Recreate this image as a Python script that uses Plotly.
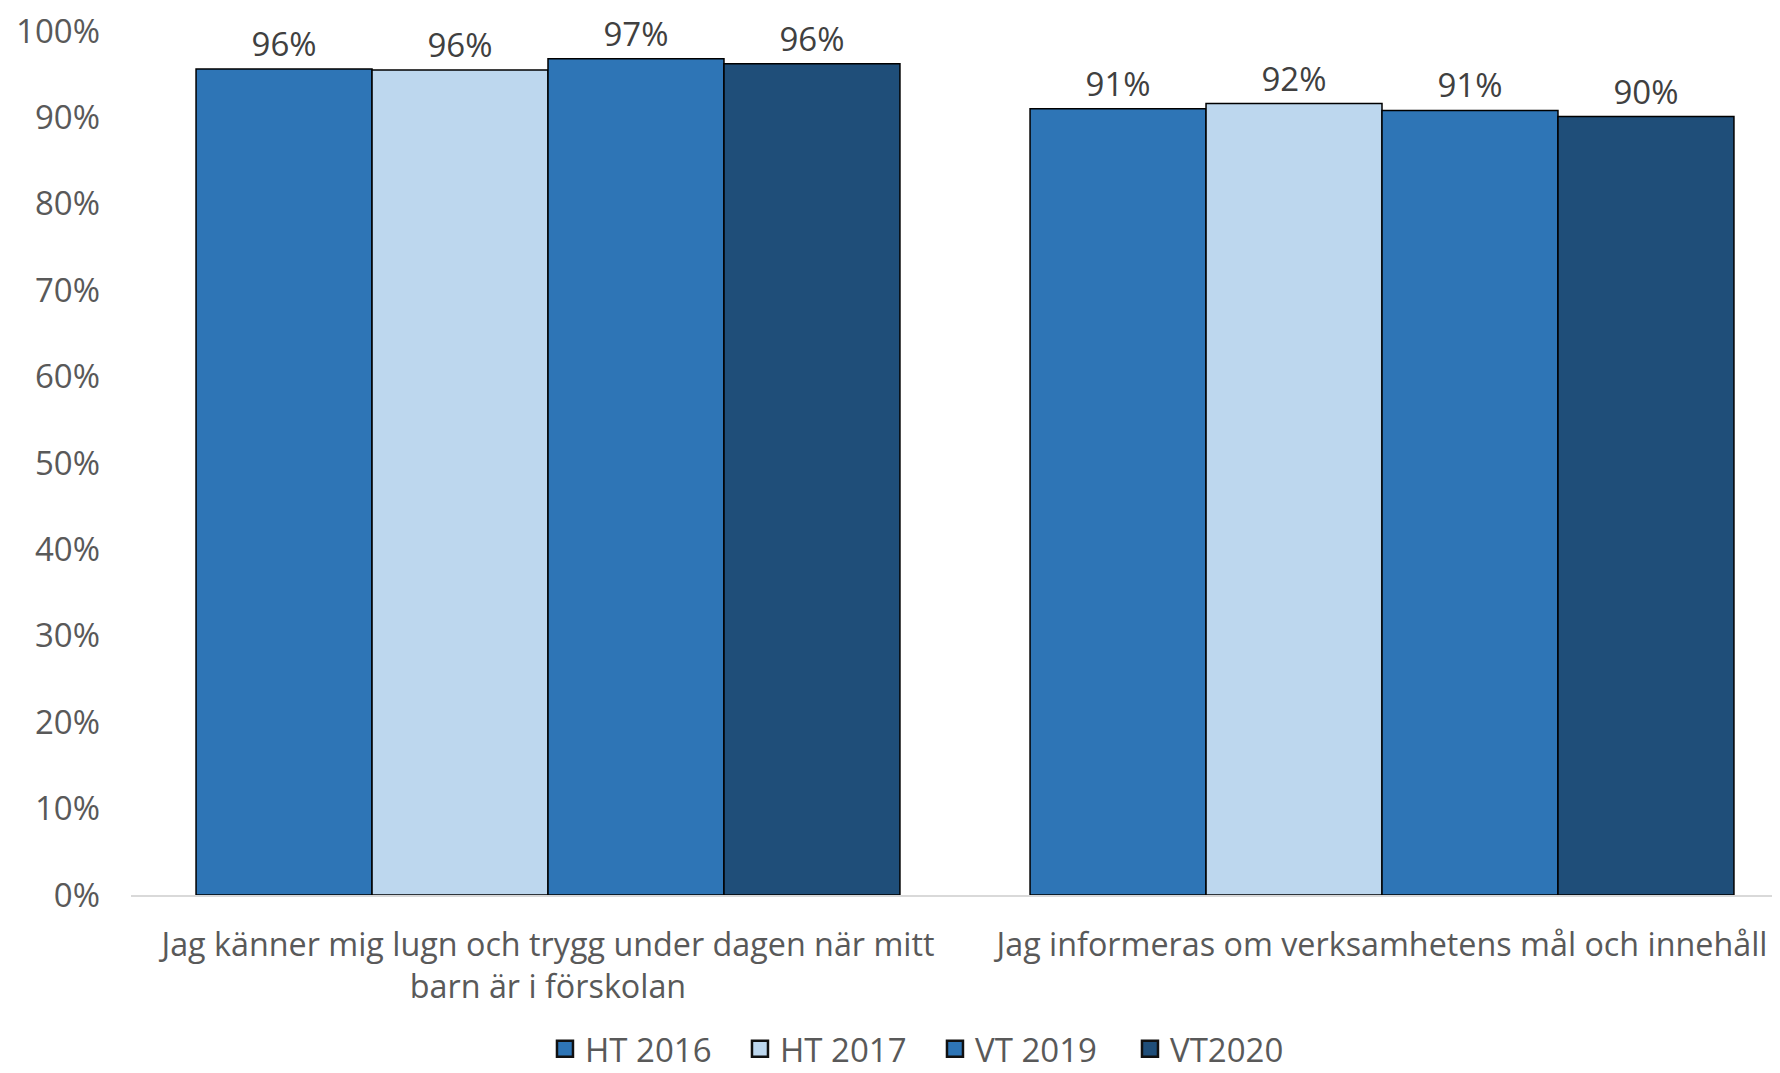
import plotly.graph_objects as go

# ==== Data ====
categories = [
    "Jag känner mig lugn och trygg under dagen när mitt<br>barn är i förskolan",
    "Jag informeras om verksamhetens mål och innehåll",
]
series_names = ["HT 2016", "HT 2017", "VT 2019", "VT2020"]
ht2016 = [95.6, 91.0]
ht2017 = [95.5, 91.6]
vt2019 = [96.8, 90.8]
vt2020 = [96.2, 90.1]

colors = ["#2E75B6", "#BDD7EE", "#2E75B6", "#1F4E79"]
font_family = "Open Sans"
fs = 33

fig = go.Figure()
for name, vals, col in zip(series_names, [ht2016, ht2017, vt2019, vt2020], colors):
    fig.add_trace(go.Bar(
        name=name,
        x=categories,
        y=vals,
        marker=dict(color=col, line=dict(color="#000000", width=1.5)),
        texttemplate="%{y:.0f}%",
        textposition="outside",
        textfont=dict(size=fs, color="#404040", family=font_family),
        cliponaxis=False,
        showlegend=False,
    ))

# legend-only entries with bigger square swatches
for name, col in zip(series_names, colors):
    fig.add_trace(go.Scatter(
        name=name,
        x=[None],
        y=[None],
        mode="markers",
        marker=dict(symbol="square", size=20, color=col,
                    line=dict(color="#111111", width=2.5)),
    ))

# page body has an 8px margin; plot area runs a little past the right edge
fig.update_layout(
    width=1791,
    height=1065,
    barmode="group",
    bargap=0.156,
    bargroupgap=0,
    plot_bgcolor="white",
    paper_bgcolor="white",
    margin=dict(l=123, r=0, t=23, b=178, autoexpand=False),
    font=dict(family=font_family, size=fs, color="#595959"),
    xaxis=dict(
        showline=True,
        linecolor="#D9D9D9",
        linewidth=2,
        ticks="",
        tickfont=dict(size=32.3, color="#595959"),
        ticklabelstandoff=20,
    ),
    yaxis=dict(
        range=[0, 100],
        dtick=10,
        ticksuffix="%",
        showgrid=False,
        zeroline=False,
        showline=False,
        tickfont=dict(size=fs, color="#595959"),
        ticklabelstandoff=30,
        ticklabeloverflow="allow",
    ),
    legend=dict(
        orientation="h",
        x=0.482,
        xanchor="center",
        y=-0.178,
        yanchor="middle",
        font=dict(size=fs, color="#595959"),
        itemwidth=30,
        entrywidth=150,
        traceorder="normal",
    ),
)

fig.write_html("out.html")
